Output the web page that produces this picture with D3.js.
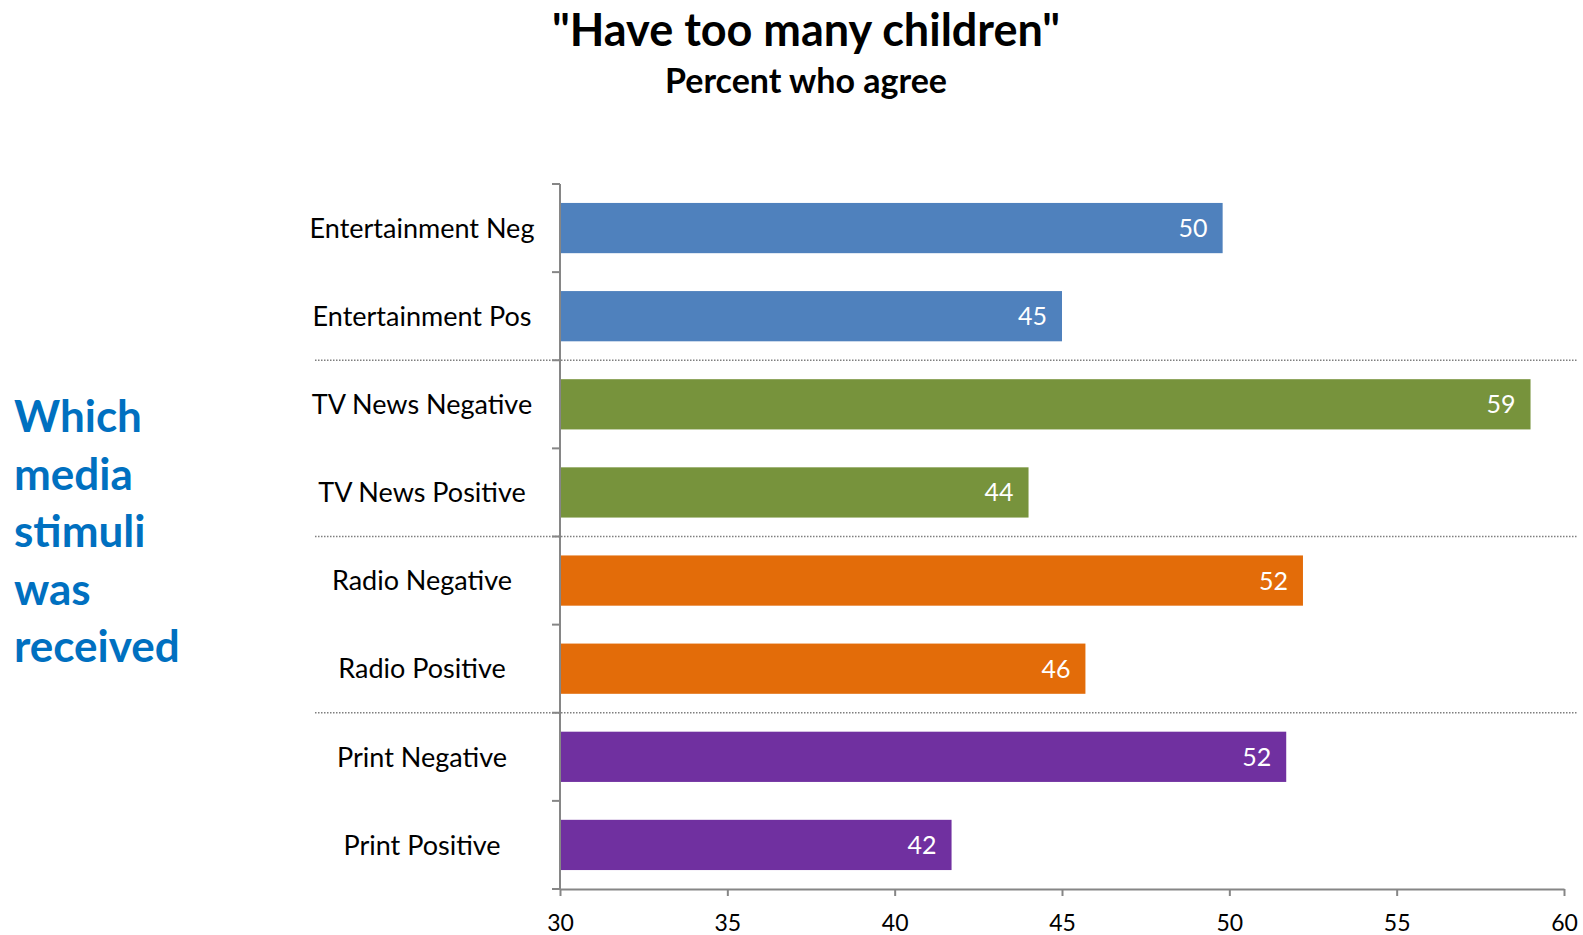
<!DOCTYPE html>
<html>
<head>
<meta charset="utf-8">
<script src="https://cdn.jsdelivr.net/npm/d3@7"></script>
<style>
  body { margin: 0; background: #fff; }
  svg { font-family: Lato, "Noto Sans", sans-serif; }
</style>
</head>
<body>
<div id="chart"></div>
<script>
/* DATA */
const categories = [
  "Entertainment Neg", "Entertainment Pos",
  "TV News Negative", "TV News Positive",
  "Radio Negative", "Radio Positive",
  "Print Negative", "Print Positive"
];
const values = [49.8, 45.0, 59.0, 44.0, 52.2, 45.7, 51.7, 41.7];
const valueLabels = ["50", "45", "59", "44", "52", "46", "52", "42"];
const groups = ["ent", "ent", "tv", "tv", "radio", "radio", "print", "print"];
const xTicks = [30, 35, 40, 45, 50, 55, 60];
const sideLines = ["Which", "media", "stimuli", "was", "received"];

/* CONSTANTS */
const width = 1583, height = 935;
const margin = { top: 184, bottom: 46, left: 560, right: 19 };
const groupColor = { ent: "#4f81bd", tv: "#77933c", radio: "#e36c09", print: "#7030a0" };
const axisColor = "#868686";

const svg = d3.select("#chart")
  .append("svg")
  .attr("width", width)
  .attr("height", height);

// scales
const xScale = d3.scaleLinear()
  .domain([30, 60])
  .range([margin.left, width - margin.right]);

const yScale = d3.scaleBand()
  .domain(categories)
  .range([margin.top, height - margin.bottom])
  .paddingInner(0.43)
  .paddingOuter(0.215);

const rows = categories.map((c, i) => ({ cat: c, value: values[i], label: valueLabels[i], group: groups[i] }));

// titles
svg.append("text")
  .attr("x", 806).attr("y", 46)
  .attr("text-anchor", "middle")
  .attr("font-size", 45).attr("font-weight", "bold")
  .attr("fill", "#000")
  .text("\"Have too many children\"");

svg.append("text")
  .attr("x", 806).attr("y", 93)
  .attr("text-anchor", "middle")
  .attr("font-size", 34).attr("font-weight", "bold")
  .attr("fill", "#000")
  .text("Percent who agree");

// side label
svg.append("g")
  .selectAll("text")
  .data(sideLines)
  .join("text")
  .attr("x", 14)
  .attr("y", (d, i) => 432 + i * 57.5)
  .attr("font-size", 44).attr("font-weight", "bold")
  .attr("fill", "#0070c0")
  .text(d => d);

// bars
svg.selectAll("rect.bar")
  .data(rows)
  .join("rect")
  .attr("class", "bar")
  .attr("x", xScale(30))
  .attr("y", d => yScale(d.cat))
  .attr("width", d => xScale(d.value) - xScale(30))
  .attr("height", yScale.bandwidth())
  .attr("fill", d => groupColor[d.group]);

// value labels
svg.selectAll("text.val")
  .data(rows)
  .join("text")
  .attr("class", "val")
  .attr("x", d => xScale(d.value) - 15)
  .attr("y", d => yScale(d.cat) + yScale.bandwidth() / 2)
  .attr("dy", "0.36em")
  .attr("text-anchor", "end")
  .attr("font-size", 25)
  .attr("fill", "#fff")
  .text(d => d.label);

// category labels
svg.selectAll("text.cat")
  .data(rows)
  .join("text")
  .attr("class", "cat")
  .attr("x", 422)
  .attr("y", d => yScale(d.cat) + yScale.bandwidth() / 2)
  .attr("dy", "0.36em")
  .attr("text-anchor", "middle")
  .attr("font-size", 27)
  .attr("fill", "#000")
  .text(d => d.cat);

// band boundaries (ticks and separators)
const step = yScale.step();
const y0 = yScale.range()[0];
const bounds = d3.range(categories.length + 1).map(i => y0 + i * step);

svg.selectAll("line.sep")
  .data(bounds.filter((b, i) => i === 2 || i === 4 || i === 6))
  .join("line")
  .attr("class", "sep")
  .attr("x1", 315).attr("x2", 1578)
  .attr("y1", d => d).attr("y2", d => d)
  .attr("stroke", "#7f7f7f")
  .attr("stroke-width", 1.5)
  .attr("stroke-dasharray", "1.5,1.5");

// y axis line and ticks
svg.append("line")
  .attr("x1", margin.left).attr("x2", margin.left)
  .attr("y1", y0).attr("y2", bounds[bounds.length - 1])
  .attr("stroke", axisColor).attr("stroke-width", 2);

svg.selectAll("line.ytick")
  .data(bounds)
  .join("line")
  .attr("class", "ytick")
  .attr("x1", margin.left - 8).attr("x2", margin.left)
  .attr("y1", d => d).attr("y2", d => d)
  .attr("stroke", axisColor).attr("stroke-width", 2);

// x axis
const xAxis = d3.axisBottom(xScale)
  .tickValues(xTicks)
  .tickSize(7)
  .tickPadding(19)
  .tickSizeOuter(0);

const xAxisGroup = svg.append("g")
  .attr("transform", `translate(0, ${bounds[bounds.length - 1]})`)
  .call(xAxis);

xAxisGroup.select(".domain").attr("stroke", axisColor).attr("stroke-width", 2);
xAxisGroup.selectAll(".tick line").attr("stroke", axisColor).attr("stroke-width", 2);
xAxisGroup.selectAll(".tick text")
  .attr("font-family", "Lato, sans-serif")
  .attr("font-size", 23)
  .attr("fill", "#000");
</script>
</body>
</html>
